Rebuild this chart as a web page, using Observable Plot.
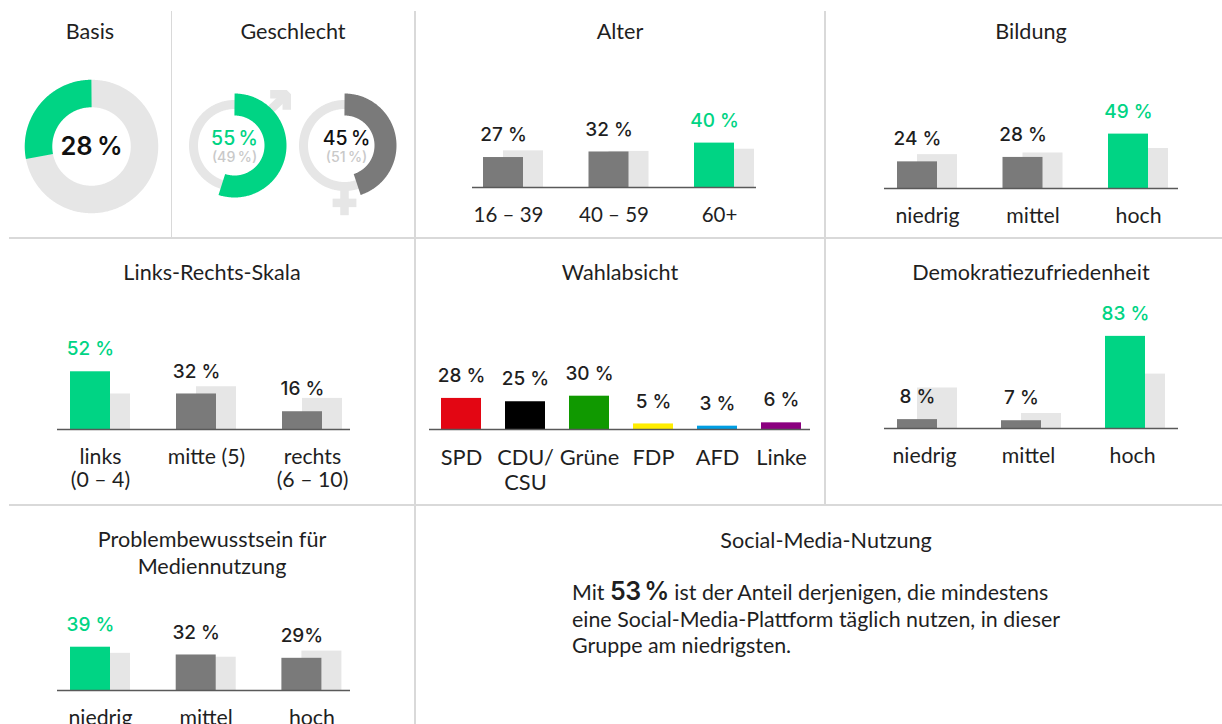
<!DOCTYPE html>
<html lang="de">
<head>
<meta charset="utf-8">
<script src="https://cdn.jsdelivr.net/npm/d3@7"></script>
<script src="https://cdn.jsdelivr.net/npm/@observablehq/plot@0.6"></script>
<style>
html,body{margin:0;padding:0;background:#fff;overflow:hidden;width:1222px;height:724px}
#page{position:relative;width:1222px;height:724px;overflow:hidden;font-family:Lato,sans-serif;color:#1f1f1f}
.line{position:absolute;background:#d9d9d9}
.title{position:absolute;transform:translate(-50%,-50%);text-align:center;font-size:21.6px;line-height:27px;white-space:nowrap}
.plot{position:absolute}
.plot svg{overflow:visible;display:block}
#note{position:absolute;left:572px;top:579px;font-size:21.4px;line-height:26.5px;white-space:nowrap}
#note b{font-family:Inter,sans-serif;font-weight:600;font-size:25px;line-height:20px;letter-spacing:-.5px}
</style>
</head>
<body>
<div id="page"></div>
<script>
// ---- data ----
const ageCats = ["16 – 39", "40 – 59", "60+"];
const ageVals = [27, 32, 40];
const ageRefs = [33, 32.5, 34.5];
const ageLabels = ["27 %", "32 %", "40 %"];

const eduCats = ["niedrig", "mittel", "hoch"];
const eduVals = [24, 28, 49];
const eduRefs = [30.5, 32, 36];
const eduLabels = ["24 %", "28 %", "49 %"];

const lrCats = ["links\n(0 – 4)", "mitte (5)", "rechts\n(6 – 10)"];
const lrVals = [52, 32, 16];
const lrRefs = [32, 38.5, 28];
const lrLabels = ["52 %", "32 %", "16 %"];

const partyCats = ["SPD", "CDU/\nCSU", "Grüne", "FDP", "AFD", "Linke"];
const partyVals = [28, 25, 30, 5, 3, 6];
const partyColors = ["#e30613", "#000000", "#109900", "#ffed00", "#009ee3", "#8b007f"];
const partyLabels = ["28 %", "25 %", "30 %", "5 %", "3 %", "6 %"];

const demoCats = ["niedrig", "mittel", "hoch"];
const demoVals = [8, 7, 83];
const demoRefs = [36.5, 13.5, 49];
const demoLabels = ["8 %", "7 %", "83 %"];

const probCats = ["niedrig", "mittel", "hoch"];
const probVals = [39, 32, 29];
const probRefs = [33.5, 30, 35.5];
const probLabels = ["39 %", "32 %", "29%"];

const basisShare = 28;
const maleShare = 55;
const femaleShare = 45;

// ---- style ----
const GREEN = "#00d484", GREY = "#7a7a7a", REF = "#e6e6e6", INK = "#1f1f1f", FAINT = "#c9c9c9";
const VALUE_FONT = "Inter, sans-serif";
const PX_PER_UNIT = 1.11;
const PLOT_H = 100, BOTTOM = 70;

const page = document.getElementById("page");
const el = (cls, css, html) => {
  const d = document.createElement("div");
  d.className = cls;
  Object.assign(d.style, css);
  if (html != null) d.innerHTML = html;
  page.appendChild(d);
  return d;
};

// dividers
[[170.6, 11, 226], [414.4, 11, 713], [824.4, 11, 494]].forEach(([x, y, h]) =>
  el("line", {left: x + "px", top: y + "px", width: "1.6px", height: h + "px"}));
[237.4, 504.4].forEach(y =>
  el("line", {left: "9px", top: y + "px", width: "1213px", height: "1.6px"}));

// titles
[["Basis", 90, 31], ["Geschlecht", 293, 31], ["Alter", 620, 31], ["Bildung", 1031, 31],
 ["Links-Rechts-Skala", 212, 272], ["Wahlabsicht", 620, 272], ["Demokratiezufriedenheit", 1031, 272],
 ["Problembewusstsein für<br>Mediennutzung", 212, 552.5], ["Social-Media-Nutzung", 826, 540]]
  .forEach(([t, x, y]) => el("title", {left: x + "px", top: y + "px"}, t));

// note
el("", {}, null).id = "note";
document.getElementById("note").innerHTML =
  "Mit <b>53\u202f%</b> ist der Anteil derjenigen, die mindestens<br>eine Social-Media-Plattform täglich nutzen, in dieser<br>Gruppe am niedrigsten.";

// bar panels
function barPanel({cats, vals, refs, labels, colors, axisFrom, axisTo, axisY, firstBar, step, labelDx = 10, tickPad = 17.5, fontSize = 21.3, lineHeight = 1.1}) {
  const barW = 40;
  const rows = cats.map((c, i) => ({
    cat: c, val: vals[i], ref: refs ? refs[i] : null, label: labels[i],
    color: colors ? colors[i] : (vals[i] === d3.max(vals) ? GREEN : GREY),
    textColor: colors ? INK : (vals[i] === d3.max(vals) ? GREEN : INK)
  }));
  const off = firstBar - axisFrom;
  const plot = Plot.plot({
    width: axisTo - axisFrom, height: PLOT_H + BOTTOM,
    marginLeft: 0, marginRight: 0, marginTop: 0, marginBottom: BOTTOM,
    style: {background: "transparent", fontFamily: "Lato, sans-serif", overflow: "visible"},
    x: {type: "band", domain: cats, range: [off, off + step * (cats.length - 1) + barW],
        paddingInner: 1 - barW / step, paddingOuter: 0, align: 0.5, round: false},
    y: {domain: [0, PLOT_H / PX_PER_UNIT], axis: null},
    marks: [
      refs ? Plot.barY(rows, {x: "cat", y: "ref", fill: REF, dx: 20}) : null,
      Plot.barY(rows, {x: "cat", y: "val", fill: "color"}),
      Plot.ruleY([0], {stroke: "#595959", strokeWidth: 1.5}),
      Plot.axisX({anchor: "bottom", tickSize: 0, tickPadding: tickPad, dx: labelDx, fontSize, fill: INK,
                  lineHeight, lineAnchor: "top", label: null}),
      Plot.text(rows, {x: "cat", y: "val", text: "label", fill: "textColor", dy: -22.5,
                       fontFamily: VALUE_FONT, fontWeight: 500, fontSize: 19, lineAnchor: "middle"})
    ]
  });
  const holder = el("plot", {left: axisFrom + "px", top: (axisY - PLOT_H) + "px"});
  holder.appendChild(plot);
}

barPanel({cats: ageCats, vals: ageVals, refs: ageRefs, labels: ageLabels,
  axisFrom: 472, axisTo: 756, axisY: 187, firstBar: 483, step: 105.5, labelDx: 5, fontSize: 20.5, tickPad: 18});
barPanel({cats: eduCats, vals: eduVals, refs: eduRefs, labels: eduLabels,
  axisFrom: 884, axisTo: 1178, axisY: 187.5, firstBar: 897, step: 105.5});
barPanel({cats: lrCats, vals: lrVals, refs: lrRefs, labels: lrLabels,
  axisFrom: 57, axisTo: 350, axisY: 428.7, firstBar: 70, step: 106});
barPanel({cats: partyCats, vals: partyVals, labels: partyLabels, colors: partyColors,
  axisFrom: 429, axisTo: 810, axisY: 428.7, firstBar: 441, step: 64, labelDx: 0, fontSize: 21.8, tickPad: 17.5, lineHeight: 1.15});
barPanel({cats: demoCats, vals: demoVals, refs: demoRefs, labels: demoLabels,
  axisFrom: 884, axisTo: 1178, axisY: 428, firstBar: 897, step: 104, labelDx: 7});
barPanel({cats: probCats, vals: probVals, refs: probRefs, labels: probLabels,
  axisFrom: 57, axisTo: 350, axisY: 690, firstBar: 70, step: 105.7});

// donuts: the arc is a thick line walked through the plot's x/y scales
function arc(share, dir) {
  const pts = [];
  for (let p = 0; p <= share; p += 0.25) {
    const a = dir * p / 100 * 2 * Math.PI;
    pts.push({x: Math.sin(a), y: Math.cos(a)});
  }
  return pts;
}
function closed() { return arc(100, 1); }

function donut({cx, cy, r, size = 200, share, dir, color, ringWidth, arcWidth, texts, glyphs = []}) {
  const plot = Plot.plot({
    width: size, height: size, margin: 0,
    style: {background: "transparent", overflow: "visible"},
    x: {domain: [-1, 1], range: [size / 2 - r, size / 2 + r], axis: null},
    y: {domain: [-1, 1], range: [size / 2 + r, size / 2 - r], axis: null},
    marks: [
      Plot.line(closed(), {x: "x", y: "y", stroke: REF, strokeWidth: ringWidth}),
      ...glyphs.map(g => Plot.line(g, {x: "x", y: "y", stroke: REF, strokeWidth: 8.5,
                                       strokeLinecap: "butt", strokeLinejoin: "miter"})),
      Plot.line(arc(share, dir), {x: "x", y: "y", stroke: color, strokeWidth: arcWidth, strokeLinecap: "butt"}),
      ...texts.map(t => Plot.text([t], {x: () => 0, y: () => 0, text: d => d.text, dx: t.dx || 0, dy: t.dy,
        fill: t.fill, fontSize: t.size, fontWeight: t.weight || 500, fontFamily: VALUE_FONT, lineAnchor: "middle"}))
    ]
  });
  const holder = el("plot", {left: (cx - size / 2) + "px", top: (cy - size / 2) + "px"});
  holder.appendChild(plot);
}

donut({cx: 91, cy: 146, r: 53, share: basisShare, dir: -1, color: GREEN, ringWidth: 27.5, arcWidth: 27.5,
  texts: [{text: "28\u202f%", size: 25.5, dy: 0, fill: "#111", weight: 600}]});

const maleShaft = [{x: 1.275, y: 1.25}, {x: 0.80, y: 0.80}];
const maleHead = [{x: 0.87, y: 1.25}, {x: 1.275, y: 1.25}, {x: 1.275, y: 0.87}];
donut({cx: 233.7, cy: 145.3, r: 41, share: maleShare, dir: 1, color: GREEN, ringWidth: 9, arcWidth: 22,
  glyphs: [maleShaft, maleHead],
  texts: [{text: "55\u202f%", size: 19.5, dy: -7, fill: GREEN}, {text: "(49\u202f%)", size: 14.2, dy: 12, fill: FAINT}]});

const femaleStem = [{x: 0, y: -1.08}, {x: 0, y: -1.70}];
const femaleBar = [{x: -0.29, y: -1.40}, {x: 0.29, y: -1.40}];
donut({cx: 344, cy: 145.3, r: 41, share: femaleShare, dir: 1, color: GREY, ringWidth: 9, arcWidth: 22,
  glyphs: [femaleStem, femaleBar],
  texts: [{text: "45\u202f%", size: 19.5, dy: -6.5, dx: 2, fill: "#111"}, {text: "(51\u202f%)", size: 14.2, dy: 12, dx: 2, fill: FAINT}]});
</script>
</body>
</html>
